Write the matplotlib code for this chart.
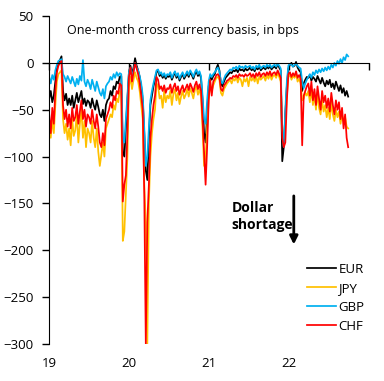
import matplotlib.pyplot as plt
import pandas as pd

# weekly observations, Jan 2019 - Sep 2022
dates = pd.date_range('2019-01-02', periods=196, freq='7D')

eur = [-38, -30, -42, -35, -20, -5, 0, 3, 7, -30, -40, -33, -45,
       -38, -45, -35, -48, -40, -32, -42, -36, -30, -44, -38, -46, -40,
       -42, -48, -38, -45, -50, -40, -47, -55, -58, -50, -62, -45, -40,
       -38, -30, -35, -25, -28, -20, -22, -15, -14, -95, -100, -70, -40,
       -10, -3, -12, -5, 5, -3, -8, -15, -25, -40, -75, -115, -125,
       -80, -45, -35, -25, -18, -10, -8, -14, -12, -16, -13, -17, -14,
       -15, -12, -18, -14, -10, -16, -13, -19, -15, -12, -17, -14, -11,
       -15, -10, -13, -17, -12, -9, -14, -11, -16, -40, -75, -85, -55,
       -25, -15, -18, -14, -12, -6, -2, -8, -22, -25, -20, -16, -14,
       -12, -10, -11, -8, -9, -7, -10, -6, -8, -7, -9, -6, -8,
       -7, -5, -8, -6, -9, -5, -7, -4, -8, -6, -5, -7, -4,
       -6, -3, -7, -5, -4, -6, -1, -5, -8, -105, -90, -55, -25,
       -6, -2, 0, -4, -3, 1, -5, -8, -10, -30, -22, -18, -15,
       -16, -13, -19, -15, -17, -20, -14, -18, -22, -16, -21, -25, -19,
       -23, -18, -26, -22, -28, -20, -25, -30, -24, -32, -27, -35, -30,
       -36]

jpy = [-65, -80, -60, -75, -45, -20, -12, -10, -8, -60, -75, -65, -82,
       -70, -88, -60, -78, -72, -55, -85, -65, -50, -80, -62, -90, -70,
       -75, -85, -62, -80, -90, -70, -95, -110, -98, -85, -100, -70, -65,
       -60, -55, -58, -45, -50, -38, -42, -30, -32, -190, -180, -140, -100,
       -25, -15, -28, -18, -10, -16, -20, -30, -45, -60, -130, -170, -300,
       -150, -100, -75, -60, -50, -22, -25, -38, -35, -48, -30, -42, -35,
       -38, -30, -45, -33, -28, -40, -32, -44, -36, -30, -38, -34, -28,
       -36, -27, -32, -38, -29, -25, -34, -28, -36, -70, -110, -100, -70,
       -40, -22, -30, -24, -20, -16, -15, -18, -32, -35, -28, -25, -22,
       -20, -18, -22, -17, -19, -15, -21, -16, -18, -25, -17, -20, -16,
       -25, -15, -19, -16, -20, -14, -22, -15, -18, -16, -14, -19, -13,
       -17, -12, -18, -14, -13, -16, -11, -15, -20, -70, -80, -65, -35,
       -15, -12, -18, -14, -16, -12, -20, -17, -22, -40, -38, -32, -35,
       -30, -42, -28, -45, -35, -50, -32, -48, -55, -40, -52, -45, -58,
       -48, -60, -42, -55, -62, -50, -58, -52, -65, -55, -62, -58, -68,
       -70]

gbp = [-15, -22, -13, -18, -8, -2, 2, 3, 4, -12, -15, -20, -14,
       -18, -22, -15, -20, -25, -17, -23, -14, -19, 3, -20, -25, -18,
       -22, -28, -18, -24, -30, -20, -26, -32, -35, -28, -38, -25, -22,
       -20, -15, -18, -12, -16, -10, -14, -11, -12, -80, -85, -60, -35,
       -10, -5, -15, -8, 0, -5, -8, -14, -22, -35, -70, -110, -100,
       -70, -40, -30, -22, -15, -8, -7, -12, -10, -14, -11, -15, -12,
       -13, -10, -16, -12, -9, -14, -11, -17, -13, -10, -15, -12, -9,
       -13, -8, -11, -15, -10, -7, -12, -9, -14, -35, -60, -65, -40,
       -20, -12, -15, -12, -10, -7, -5, -9, -20, -22, -17, -13, -11,
       -9, -7, -8, -5, -6, -4, -7, -3, -5, -4, -6, -3, -5,
       -4, -3, -6, -4, -7, -3, -5, -2, -6, -4, -3, -5, -2,
       -4, -2, -5, -3, -2, -4, -1, -3, -6, -70, -90, -50, -20,
       -3, -1, -2, -4, -2, -1, -3, -5, -6, -20, -27, -22, -18,
       -15, -12, -16, -10, -13, -8, -11, -7, -10, -6, -9, -5, -8,
       -4, -7, -2, -5, 0, -3, 2, -1, 4, 0, 6, 3, 9,
       7]

chf = [-55, -75, -48, -65, -30, -10, -3, 0, 2, -45, -60, -50, -68,
       -55, -70, -48, -62, -58, -45, -65, -52, -40, -60, -50, -68, -55,
       -58, -65, -50, -62, -70, -55, -68, -85, -90, -75, -88, -60, -55,
       -50, -42, -48, -35, -40, -30, -33, -22, -24, -148, -130, -120, -75,
       -15, -5, -20, -10, 0, -6, -12, -22, -35, -50, -140, -300, -170,
       -130, -80, -60, -45, -35, -15, -18, -28, -25, -30, -24, -32, -27,
       -28, -23, -32, -26, -22, -30, -25, -34, -28, -24, -31, -27, -23,
       -29, -22, -26, -31, -24, -20, -28, -23, -30, -60, -95, -130, -90,
       -40, -18, -35, -20, -17, -13, -12, -15, -28, -30, -24, -22, -19,
       -18, -16, -17, -14, -15, -13, -16, -12, -14, -13, -15, -12, -14,
       -13, -11, -15, -12, -16, -11, -14, -10, -15, -12, -11, -14, -10,
       -13, -9, -14, -11, -10, -13, -8, -12, -16, -80, -90, -85, -40,
       -12, -10, -15, -11, -14, -9, -16, -13, -17, -88, -35, -30, -25,
       -22, -35, -20, -40, -28, -45, -25, -38, -50, -30, -42, -35, -48,
       -38, -52, -32, -45, -55, -40, -50, -42, -60, -48, -70, -55, -80,
       -90]

series = [('EUR', eur, 'black'), ('JPY', jpy, '#FFC000'),
          ('GBP', gbp, '#00B0F0'), ('CHF', chf, '#FF0000')]

year_ticks = pd.to_datetime(['2019-01-01', '2020-01-01', '2021-01-01',
                             '2022-01-01', '2023-01-01'])
year_labels = ['19', '20', '21', '22', '']

plt.rcParams['font.family'] = ['Open Sans', 'DejaVu Sans']

fig = plt.figure(figsize=(3.84, 3.81), dpi=100)
ax = fig.add_axes([0.1276, 0.0971, 0.8333, 0.8609])

for name, vals, col in series:
    ax.plot(dates, vals, color=col, lw=1.25, label=name)

ax.set_xlim(year_ticks[0], year_ticks[-1])
ax.set_ylim(-300, 50)
ax.set_yticks(range(-300, 51, 50))
ax.tick_params(axis='y', direction='out', length=5, width=1, pad=6,
               labelsize=9.5)

# x axis drawn at zero, labels at the bottom
ax.spines['bottom'].set_position(('data', 0))
ax.spines['top'].set_visible(False)
ax.spines['right'].set_visible(False)
ax.set_xticks(year_ticks)
ax.tick_params(axis='x', direction='out', length=5, width=1,
               labelbottom=False)

sec = ax.secondary_xaxis('bottom')
sec.set_xticks(year_ticks)
sec.set_xticklabels(year_labels)
sec.tick_params(length=0, pad=9, labelsize=9.5)
sec.spines['bottom'].set_visible(False)

ax.text(0.055, 0.975, 'One-month cross currency basis, in bps',
        transform=ax.transAxes, fontsize=9, va='top', ha='left')

ax.text(0.57, 0.437, 'Dollar\nshortage', transform=ax.transAxes,
        fontsize=10, fontweight='bold', va='top', ha='left', linespacing=1.3)
ax.annotate('', xy=(0.765, 0.295), xytext=(0.765, 0.46),
            xycoords='axes fraction',
            arrowprops=dict(arrowstyle='-|>', color='black', lw=2,
                            mutation_scale=12))

ax.legend(loc='upper left', bbox_to_anchor=(0.789, 0.263), frameon=False,
          fontsize=9.5, handlelength=2.2, handletextpad=0.2,
          labelspacing=0.45, borderaxespad=0)

fig.savefig('out.png', dpi=100)
